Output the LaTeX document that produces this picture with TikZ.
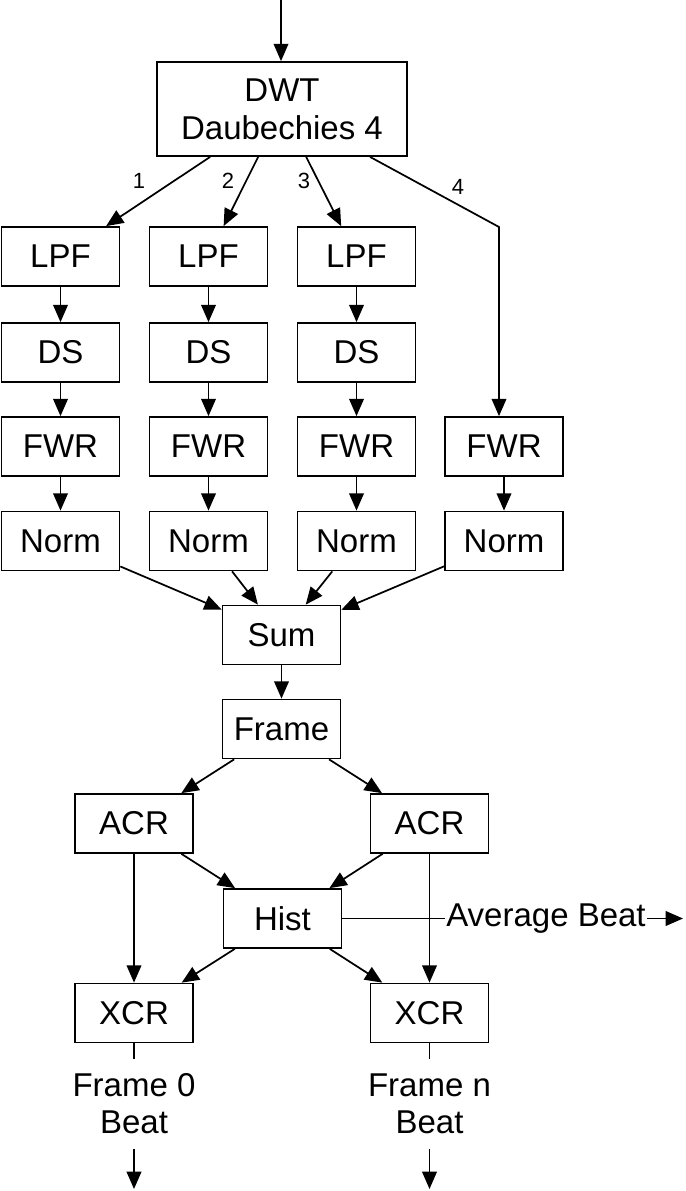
\documentclass[tikz,border=0pt]{standalone}
\usepackage{fontspec}
\setmainfont{Liberation Sans}
\usetikzlibrary{arrows.meta}

\begin{document}
\begin{tikzpicture}[x=0.75pt,y=0.75pt,yscale=-1,xscale=1,
  blk/.style={draw, line width=1.3pt, minimum width=88.5pt, minimum height=44.25pt, inner sep=0pt, font=\fontsize{24.75}{28.5}\selectfont, align=center},
  wire/.style={line width=1.3pt},
  arr/.style={wire, -{Triangle[length=13pt,width=11pt]}},
  lbl/.style={font=\fontsize{16.5}{18}\selectfont, inner sep=0pt},
  outtxt/.style={font=\fontsize{24.75}{27.75}\selectfont, align=center, inner xsep=1pt, inner ysep=11pt}]
\useasboundingbox (0,0) rectangle (685,1191);

%Shape: Rectangle [DWT]
\node [blk, minimum width=187.5pt, minimum height=70.5pt] (dwt) at (282,109) {DWT\\Daubechies 4};
\coordinate (in) at (281,0);

%Shape: Rectangle [band 1]
\node [blk] (lpf1) at (60.5,256.5) {LPF};
\node [blk] (ds1) at (60.5,352.5) {DS};
\node [blk] (fwr1) at (60.5,446.5) {FWR};
\node [blk] (norm1) at (60.5,541) {Norm};
%Shape: Rectangle [band 2]
\node [blk] (lpf2) at (208.5,256.5) {LPF};
\node [blk] (ds2) at (208.5,352.5) {DS};
\node [blk] (fwr2) at (208.5,446.5) {FWR};
\node [blk] (norm2) at (208.5,541) {Norm};
%Shape: Rectangle [band 3]
\node [blk] (lpf3) at (356.5,256.5) {LPF};
\node [blk] (ds3) at (356.5,352.5) {DS};
\node [blk] (fwr3) at (356.5,446.5) {FWR};
\node [blk] (norm3) at (356.5,541) {Norm};
%Shape: Rectangle [band 4]
\node [blk] (fwr4) at (504,446.5) {FWR};
\node [blk] (norm4) at (504,541) {Norm};
\coordinate (bend4) at (499,227);

%Shape: Rectangle [tempo part]
\node [blk] (sum) at (281.5,635) {Sum};
\node [blk] (frame) at (281.5,729) {Frame};
\node [blk] (acr1) at (134,823.5) {ACR};
\node [blk] (acr2) at (429.5,823.5) {ACR};
\node [blk] (hist) at (282.5,918.5) {Hist};
\node [blk] (xcr1) at (134,1013) {XCR};
\node [blk] (xcr2) at (429.5,1013) {XCR};

% Text Node
\node [lbl] (l1) at (139,181) {1};
\node [lbl] (l2) at (228,181) {2};
\node [lbl] (l3) at (304,181) {3};
\node [lbl] (l4) at (458,187) {4};
% Text Node
\node [outtxt, inner ysep=1.5pt] (avg) at (546,918.5) {Average Beat};
\coordinate (avgend) at (683,918.5);
\node [outtxt] (beat1) at (134,1104) {Frame 0\\Beat};
\node [outtxt] (beat2) at (429.5,1104) {Frame n\\Beat};
\coordinate (out1) at (134,1189);
\coordinate (out2) at (429.5,1189);

%Straight Lines
\draw [arr] (in) -- (in |- dwt.north);
\draw [arr] (dwt) -- (lpf1);
\draw [arr] (dwt) -- (lpf2);
\draw [arr] (dwt) -- (lpf3);
\draw [arr] (dwt) -- (bend4) -- (bend4 |- fwr4.north);
\draw [arr] (lpf1) -- (ds1);
\draw [arr] (ds1) -- (fwr1);
\draw [arr] (fwr1) -- (norm1);
\draw [arr] (lpf2) -- (ds2);
\draw [arr] (ds2) -- (fwr2);
\draw [arr] (fwr2) -- (norm2);
\draw [arr] (lpf3) -- (ds3);
\draw [arr] (ds3) -- (fwr3);
\draw [arr] (fwr3) -- (norm3);
\draw [arr] (fwr4) -- (norm4);
\draw [arr] (norm1) -- (sum);
\draw [arr] (norm2) -- (sum);
\draw [arr] (norm3) -- (sum);
\draw [arr] (norm4) -- (sum);
\draw [arr] (sum) -- (frame);
\draw [arr] (frame) -- (acr1);
\draw [arr] (frame) -- (acr2);
\draw [arr] (acr1) -- (hist);
\draw [arr] (acr2) -- (hist);
\draw [arr] (acr1) -- (xcr1);
\draw [arr] (acr2) -- (xcr2);
\draw [arr] (hist) -- (xcr1);
\draw [arr] (hist) -- (xcr2);
\draw [wire] (hist) -- (avg);
\draw [arr] (avg) -- (avgend);
\draw [wire] (xcr1) -- (beat1);
\draw [arr] (beat1) -- (out1);
\draw [wire] (xcr2) -- (beat2);
\draw [arr] (beat2) -- (out2);

\end{tikzpicture}
\end{document}
